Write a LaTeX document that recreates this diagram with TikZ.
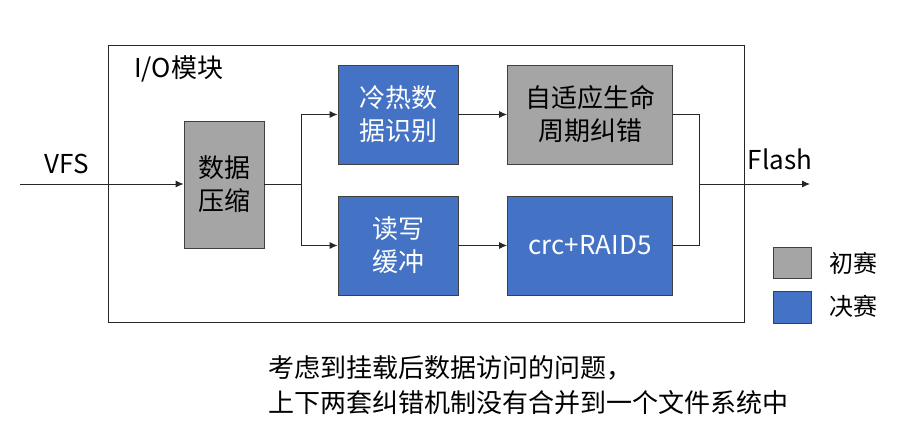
\documentclass[tikz,border=0pt]{standalone}
\usepackage{fontspec}
\setmainfont{Noto Sans CJK SC}
\usetikzlibrary{arrows.meta}
\definecolor{boxgray}{HTML}{A5A5A5}
\definecolor{boxblue}{HTML}{4472C4}
\definecolor{edgeline}{HTML}{404040}
\tikzset{
  blk/.style={draw=edgeline, line width=0.9pt, align=center, inner sep=0pt,
    font=\fontsize{26}{33}\selectfont},
  graybox/.style={blk, fill=boxgray, text=black},
  bluebox/.style={blk, fill=boxblue, text=white},
  conn/.style={draw=black!85, line width=0.9pt},
  arr/.style={conn, -{Latex[length=8pt,width=7pt]}},
  lbl/.style={font=\fontsize{26}{33}\selectfont, inner sep=0pt},
  legsq/.style={draw=edgeline, line width=0.9pt, minimum width=38pt, minimum height=31pt, inner sep=0pt},
}
\begin{document}
\begin{tikzpicture}[x=1pt,y=-1pt]
\useasboundingbox (0,0) rectangle (909,433);
% outer module frame
\node[draw=black!85, line width=1pt, minimum width=636pt, minimum height=276pt, inner sep=0pt] (frame) at (426,184) {};
\node[lbl, anchor=west] (iolbl) at (134,69) {I/O模块};
% blocks
\node[graybox, minimum width=80pt, minimum height=127pt] (comp) at (224,184.5) {数据\\压缩};
\node[bluebox, minimum width=120pt, minimum height=99pt] (hot) at (398,114.5) {冷热数\\据识别};
\node[bluebox, minimum width=120pt, minimum height=99pt] (buf) at (398,245.5) {读写\\缓冲};
\node[graybox, minimum width=165pt, minimum height=99pt] (ecc) at (590,114.5) {自适应生命\\周期纠错};
\node[bluebox, minimum width=165pt, minimum height=99pt] (crc) at (590,245.5) {crc+RAID5};
% external labels
\node[lbl] (vfs) at (67,164) {VFS};
\node[lbl] (flash) at (780,159) {Flash};
% coordinates
\coordinate (vfsin) at (20,184);
\coordinate (split) at (301,184);
\coordinate (merge) at (699,184);
\coordinate (flashout) at (810,184);
% connectors
\draw[arr] (vfsin) -- (vfsin -| comp.west);
\draw[conn] (comp.east |- split) -- (split);
\draw[arr] (split) |- (hot.west);
\draw[arr] (split) |- (buf.west);
\draw[arr] (hot.east) -- (ecc.west);
\draw[arr] (buf.east) -- (crc.west);
\draw[conn] (ecc.east) -| (merge);
\draw[conn] (crc.east) -| (merge);
\draw[arr] (merge) -- (flashout);
% legend
\node[legsq, fill=boxgray] (leg1) at (792,262.5) {};
\node[legsq, fill=boxblue, minimum height=32pt] (leg2) at (792,307) {};
\node[lbl, font=\fontsize{24}{30}\selectfont, anchor=west] (leg1t) at (829,263) {初赛};
\node[lbl, font=\fontsize{24}{30}\selectfont, anchor=west] (leg2t) at (829,306) {决赛};
% note
\node[lbl, anchor=west, align=left, font=\fontsize{26}{35}\selectfont] (note) at (268,385.5) {考虑到挂载后数据访问的问题，\\上下两套纠错机制没有合并到一个文件系统中};
\end{tikzpicture}
\end{document}
